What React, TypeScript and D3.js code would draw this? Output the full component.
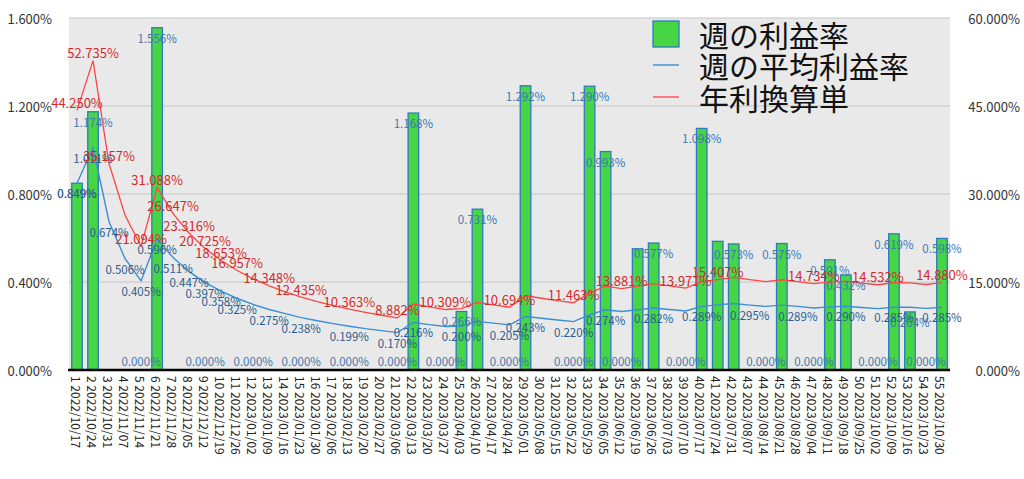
import * as d3 from 'd3';

const weeks = [
  '1 2022/10/17', '2 2022/10/24', '3 2022/10/31', '4 2022/11/07', '5 2022/11/14',
  '6 2022/11/21', '7 2022/11/28', '8 2022/12/05', '9 2022/12/12', '10 2022/12/19',
  '11 2022/12/26', '12 2023/01/02', '13 2023/01/09', '14 2023/01/16', '15 2023/01/23',
  '16 2023/01/30', '17 2023/02/06', '18 2023/02/13', '19 2023/02/20', '20 2023/02/27',
  '21 2023/03/06', '22 2023/03/13', '23 2023/03/20', '24 2023/03/27', '25 2023/04/03',
  '26 2023/04/10', '27 2023/04/17', '28 2023/04/24', '29 2023/05/01', '30 2023/05/08',
  '31 2023/05/15', '32 2023/05/22', '33 2023/05/29', '34 2023/06/05', '35 2023/06/12',
  '36 2023/06/19', '37 2023/06/26', '38 2023/07/03', '39 2023/07/10', '40 2023/07/17',
  '41 2023/07/24', '42 2023/07/31', '43 2023/08/07', '44 2023/08/14', '45 2023/08/21',
  '46 2023/08/28', '47 2023/09/04', '48 2023/09/11', '49 2023/09/18', '50 2023/09/25',
  '51 2023/10/02', '52 2023/10/09', '53 2023/10/16', '54 2023/10/23', '55 2023/10/30',
];

// 週の利益率 (%)
const weekly = [
  0.849, 1.174, 0, 0, 0, 1.556, 0, 0, 0, 0,
  0, 0, 0, 0, 0, 0, 0, 0, 0, 0,
  0, 1.168, 0, 0, 0.266, 0.731, 0, 0, 1.292, 0,
  0, 0, 1.290, 0.993, 0, 0.551, 0.577, 0, 0, 1.098,
  0.585, 0.573, 0, 0, 0.575, 0, 0, 0.501, 0.432, 0,
  0, 0.619, 0.264, 0, 0.598,
];

// 週の平均利益率 (%)
const average = [
  0.849, 1.011, 0.674, 0.506, 0.405, 0.596, 0.511, 0.447, 0.397, 0.358,
  0.325, 0.298, 0.275, 0.256, 0.238, 0.224, 0.211, 0.199, 0.188, 0.179,
  0.170, 0.216, 0.206, 0.198, 0.200, 0.221, 0.213, 0.205, 0.243, 0.235,
  0.227, 0.220, 0.252, 0.274, 0.266, 0.274, 0.282, 0.275, 0.268, 0.289,
  0.296, 0.302, 0.295, 0.289, 0.295, 0.289, 0.282, 0.287, 0.290, 0.284,
  0.279, 0.285, 0.285, 0.280, 0.285,
];

// 年利換算単 (%)
const annual = [
  44.250, 52.735, 35.157, 26.371, 21.094, 31.088, 26.647, 23.316, 20.725, 18.653,
  16.957, 15.543, 14.348, 13.330, 12.435, 11.664, 10.977, 10.363, 9.822, 9.331,
  8.882, 11.251, 10.762, 10.309, 10.456, 11.519, 11.093, 10.694, 12.651, 12.229,
  11.835, 11.463, 13.156, 14.292, 13.881, 14.296, 14.723, 14.335, 13.971, 15.050,
  15.407, 15.771, 15.404, 15.054, 15.386, 15.051, 14.734, 14.968, 15.122, 14.820,
  14.532, 14.871, 14.850, 14.575, 14.880,
];

// which points carry a visible value label (1-based week numbers)
const weeklyLabelWeeks = [1, 2, 5, 6, 9, 12, 15, 18, 21, 22, 24, 25, 26, 28, 29, 32, 33, 34, 35, 37, 39, 40, 42, 44, 45, 47, 48, 49, 51, 52, 53, 54, 55];
const averageLabelWeeks = [1, 2, 3, 4, 5, 6, 7, 8, 9, 10, 11, 13, 15, 18, 21, 22, 25, 28, 29, 32, 34, 37, 40, 43, 46, 49, 52, 55];
const annualLabelWeeks = [1, 2, 3, 5, 6, 7, 8, 9, 10, 11, 13, 15, 18, 21, 24, 28, 32, 35, 39, 41, 47, 51, 55];

const leftTicks = [0, 0.4, 0.8, 1.2, 1.6];
const rightTicks = [0, 15, 30, 45, 60];
const legendLabels = ['週の利益率', '週の平均利益率', '年利換算単'];

const W = 1024;
const H = 479;
const plot = { left: 69, right: 950, top: 18, bottom: 370 };
const font = "'Noto Sans CJK JP', 'Noto Sans', sans-serif";

export default function App() {
  const x = d3.scaleBand<string>().domain(weeks).range([plot.left, plot.right]).padding(0);
  const bw = x.bandwidth();
  const cx = (i: number) => (x(weeks[i]) as number) + bw / 2;
  const yL = d3.scaleLinear().domain([0, 1.6]).range([plot.bottom, plot.top]);
  const yR = d3.scaleLinear().domain([0, 60]).range([plot.bottom, plot.top]);

  const avgLine = d3.line<number>().x((_, i) => cx(i)).y(d => yL(d))(average) || '';
  const annLine = d3.line<number>().x((_, i) => cx(i)).y(d => yR(d))(annual) || '';
  const fmt = (v: number) => v.toFixed(3) + '%';

  return (
    <svg width={W} height={H} style={{ position: 'absolute', left: 0, top: 0, display: 'block' }} fontFamily={font}>
      <rect x={0} y={0} width={W} height={H} fill="#fff" />
      <rect x={plot.left} y={plot.top} width={plot.right - plot.left} height={plot.bottom - plot.top} fill="#e9e9e9" />
      {leftTicks.filter(t => t > 0).map(t => (
        <line key={t} x1={plot.left} x2={plot.right} y1={yL(t)} y2={yL(t)} stroke="#c6c6c6" strokeWidth={1.2} />
      ))}
      {leftTicks.map(t => (
        <text key={'l' + t} x={52} y={yL(t)} textAnchor="end" dominantBaseline="central" fontSize={13} fill="#333">{fmt(t)}</text>
      ))}
      {rightTicks.map(t => (
        <text key={'r' + t} x={1020} y={yR(t)} textAnchor="end" dominantBaseline="central" fontSize={13} fill="#333">{fmt(t)}</text>
      ))}

      {weekly.map((v, i) => v > 0 && (
        <rect key={'b' + i} x={cx(i) - bw * 0.33} y={yL(v)} width={bw * 0.66} height={yL(0) - yL(v)}
          fill="#45d545" stroke="#2f7bbf" strokeWidth={1.3} />
      ))}

      <line x1={plot.left - 1} x2={plot.right} y1={plot.bottom} y2={plot.bottom} stroke="#000" strokeWidth={2.5} />

      <path d={avgLine} fill="none" stroke="#3c8fd4" strokeWidth={1.4} />
      <path d={annLine} fill="none" stroke="#ff4545" strokeWidth={1.3} />

      {weeklyLabelWeeks.map(w => {
        const v = weekly[w - 1];
        const y = v > 0 ? yL(v) + 10 : yL(0) - 9;
        return (
          <text key={'wl' + w} x={cx(w - 1)} y={y} textAnchor="middle" dominantBaseline="central" fontSize={11.5} fill="#3f78b0">{fmt(v)}</text>
        );
      })}
      {averageLabelWeeks.map(w => (
        <text key={'al' + w} x={cx(w - 1)} y={yL(average[w - 1]) + 10} textAnchor="middle" dominantBaseline="central" fontSize={11.5} fill="#2b5d8e">{fmt(average[w - 1])}</text>
      ))}
      {annualLabelWeeks.map(w => (
        <text key={'rl' + w} x={cx(w - 1)} y={yR(annual[w - 1]) - 8} textAnchor="middle" dominantBaseline="central" fontSize={13} fill="#d42a2a">{fmt(annual[w - 1])}</text>
      ))}

      {weeks.map((c, i) => (
        <text key={'x' + i} transform={`translate(${cx(i) - 1},${plot.bottom + 6}) rotate(90)`} textAnchor="start"
          dominantBaseline="central" fontSize={12} fill="#222">{c}</text>
      ))}

      <g>
        <rect x={653} y={21} width={26} height={26} fill="#45d545" stroke="#2f7bbf" strokeWidth={1.3} />
        <line x1={653} x2={679} y1={65} y2={65} stroke="#3c8fd4" strokeWidth={1.4} />
        <line x1={653} x2={679} y1={97} y2={97} stroke="#ff4545" strokeWidth={1.3} />
        {legendLabels.map((t, i) => (
          <text key={t} x={699} y={[34, 65, 97][i]} dominantBaseline="central" fontSize={30} fill="#111">{t}</text>
        ))}
      </g>
    </svg>
  );
}
